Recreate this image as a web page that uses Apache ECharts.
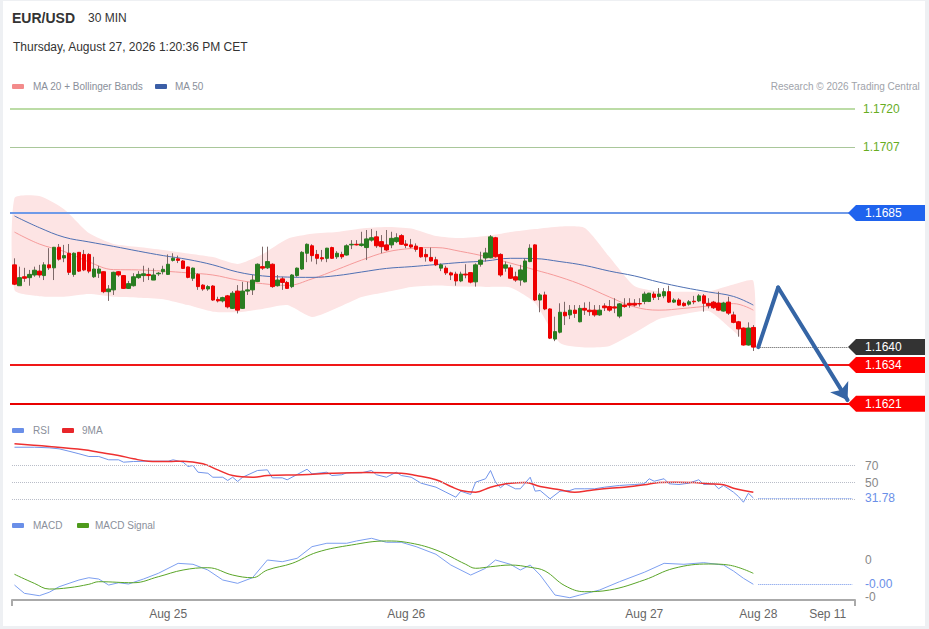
<!DOCTYPE html>
<html>
<head>
<meta charset="utf-8">
<script src="https://cdn.jsdelivr.net/npm/echarts@6/dist/echarts.min.js"></script>
<style>
html,body{margin:0;padding:0;background:#fff;}
#wrap{position:relative;width:929px;height:629px;}
#chart{position:absolute;left:0;top:0;width:929px;height:629px;}
#frame{position:absolute;left:0;top:0;width:929px;height:629px;box-sizing:border-box;border-style:solid;border-color:#eef0f3;border-width:1px 4px 3px 3px;pointer-events:none;}
</style>
</head>
<body>
<div id="wrap"><div id="chart"></div><div id="frame"></div></div>
<script>
// ---------- DATA ----------
const slotCount = 170; // 30-minute slots incl. forecast area
const xTickIndex = [31, 79, 127, 150, 164];
const xTickText = ['Aug 25', 'Aug 26', 'Aug 27', 'Aug 28', 'Sep 11'];

const open = [1.16676,1.16606,1.16636,1.16633,1.16642,1.16655,1.16640,1.16676,1.16666,1.16735,1.16699,1.16715,1.16644,1.16718,1.16711,1.16711,1.16636,1.16648,1.16653,1.16586,1.16592,1.16653,1.16640,1.16597,1.16606,1.16633,1.16640,1.16644,1.16625,1.16646,1.16653,1.16644,1.16691,1.16696,1.16689,1.16669,1.16631,1.16644,1.16608,1.16595,1.16605,1.16560,1.16555,1.16572,1.16530,1.16588,1.16530,1.16588,1.16592,1.16620,1.16670,1.16666,1.16678,1.16606,1.16629,1.16617,1.16603,1.16640,1.16662,1.16715,1.16740,1.16711,1.16700,1.16698,1.16734,1.16703,1.16711,1.16709,1.16743,1.16745,1.16741,1.16734,1.16759,1.16770,1.16754,1.16743,1.16743,1.16754,1.16774,1.16746,1.16743,1.16739,1.16734,1.16711,1.16701,1.16693,1.16665,1.16665,1.16649,1.16645,1.16622,1.16645,1.16650,1.16619,1.16678,1.16699,1.16700,1.16767,1.16711,1.16665,1.16666,1.16636,1.16625,1.16619,1.16687,1.16743,1.16558,1.16575,1.16528,1.16427,1.16450,1.16517,1.16508,1.16524,1.16485,1.16530,1.16524,1.16524,1.16508,1.16538,1.16536,1.16535,1.16504,1.16541,1.16547,1.16547,1.16546,1.16553,1.16553,1.16578,1.16570,1.16572,1.16586,1.16551,1.16558,1.16547,1.16544,1.16554,1.16555,1.16572,1.16547,1.16551,1.16548,1.16521,1.16551,1.16508,1.16485,1.16464,1.16407,1.16466];
const close = [1.16611,1.16633,1.16631,1.16644,1.16658,1.16642,1.16676,1.16666,1.16735,1.16695,1.16707,1.16651,1.16715,1.16655,1.16659,1.16655,1.16662,1.16662,1.16586,1.16595,1.16651,1.16642,1.16597,1.16613,1.16636,1.16644,1.16646,1.16640,1.16642,1.16648,1.16661,1.16678,1.16698,1.16691,1.16664,1.16634,1.16665,1.16603,1.16595,1.16603,1.16558,1.16555,1.16566,1.16535,1.16581,1.16524,1.16588,1.16592,1.16625,1.16678,1.16665,1.16687,1.16603,1.16625,1.16617,1.16597,1.16642,1.16665,1.16718,1.16745,1.16707,1.16698,1.16696,1.16732,1.16698,1.16715,1.16703,1.16740,1.16745,1.16743,1.16746,1.16763,1.16767,1.16740,1.16737,1.16726,1.16765,1.16767,1.16745,1.16741,1.16736,1.16728,1.16703,1.16703,1.16689,1.16676,1.16676,1.16649,1.16642,1.16622,1.16645,1.16642,1.16618,1.16676,1.16692,1.16716,1.16770,1.16703,1.16642,1.16676,1.16631,1.16625,1.16659,1.16689,1.16732,1.16558,1.16575,1.16528,1.16430,1.16452,1.16517,1.16505,1.16524,1.16513,1.16530,1.16524,1.16519,1.16508,1.16524,1.16532,1.16524,1.16531,1.16545,1.16536,1.16541,1.16541,1.16545,1.16578,1.16581,1.16567,1.16578,1.16586,1.16551,1.16558,1.16541,1.16539,1.16552,1.16552,1.16572,1.16547,1.16539,1.16532,1.16524,1.16548,1.16514,1.16483,1.16461,1.16407,1.16464,1.16400];
const low = [1.16608,1.16606,1.16619,1.16606,1.16636,1.16633,1.16625,1.16659,1.16625,1.16690,1.16685,1.16642,1.16636,1.16652,1.16655,1.16648,1.16632,1.16632,1.16581,1.16555,1.16575,1.16636,1.16595,1.16595,1.16603,1.16629,1.16619,1.16625,1.16625,1.16639,1.16644,1.16642,1.16687,1.16682,1.16662,1.16631,1.16622,1.16592,1.16589,1.16589,1.16555,1.16550,1.16550,1.16530,1.16528,1.16513,1.16528,1.16575,1.16575,1.16618,1.16659,1.16662,1.16599,1.16603,1.16592,1.16595,1.16598,1.16636,1.16659,1.16685,1.16687,1.16678,1.16687,1.16685,1.16696,1.16696,1.16696,1.16707,1.16729,1.16741,1.16737,1.16692,1.16754,1.16733,1.16715,1.16722,1.16732,1.16749,1.16743,1.16732,1.16732,1.16720,1.16700,1.16687,1.16687,1.16672,1.16655,1.16642,1.16625,1.16606,1.16618,1.16631,1.16614,1.16603,1.16670,1.16687,1.16698,1.16700,1.16636,1.16653,1.16629,1.16619,1.16606,1.16617,1.16685,1.16555,1.16517,1.16524,1.16427,1.16420,1.16446,1.16474,1.16494,1.16498,1.16483,1.16508,1.16505,1.16502,1.16505,1.16521,1.16519,1.16514,1.16497,1.16532,1.16532,1.16536,1.16536,1.16544,1.16551,1.16558,1.16558,1.16564,1.16548,1.16548,1.16539,1.16536,1.16539,1.16544,1.16551,1.16519,1.16530,1.16528,1.16521,1.16519,1.16508,1.16480,1.16435,1.16405,1.16405,1.16387];
const high = [1.16698,1.16670,1.16666,1.16659,1.16670,1.16676,1.16685,1.16732,1.16736,1.16746,1.16743,1.16746,1.16718,1.16719,1.16726,1.16715,1.16703,1.16673,1.16654,1.16608,1.16653,1.16655,1.16642,1.16622,1.16648,1.16655,1.16673,1.16666,1.16664,1.16652,1.16673,1.16711,1.16715,1.16707,1.16692,1.16670,1.16667,1.16648,1.16611,1.16608,1.16608,1.16569,1.16569,1.16575,1.16588,1.16608,1.16619,1.16619,1.16642,1.16681,1.16737,1.16737,1.16681,1.16642,1.16636,1.16622,1.16645,1.16667,1.16722,1.16748,1.16745,1.16726,1.16726,1.16733,1.16737,1.16722,1.16720,1.16745,1.16759,1.16759,1.16787,1.16793,1.16796,1.16790,1.16776,1.16793,1.16787,1.16782,1.16779,1.16759,1.16763,1.16748,1.16734,1.16729,1.16734,1.16703,1.16681,1.16673,1.16653,1.16653,1.16653,1.16678,1.16650,1.16681,1.16720,1.16733,1.16776,1.16770,1.16715,1.16687,1.16676,1.16653,1.16676,1.16698,1.16745,1.16745,1.16581,1.16586,1.16530,1.16502,1.16547,1.16552,1.16541,1.16541,1.16541,1.16550,1.16552,1.16541,1.16541,1.16547,1.16558,1.16564,1.16548,1.16564,1.16564,1.16561,1.16564,1.16586,1.16582,1.16586,1.16598,1.16598,1.16606,1.16564,1.16564,1.16552,1.16558,1.16572,1.16578,1.16578,1.16564,1.16555,1.16586,1.16552,1.16569,1.16519,1.16488,1.16466,1.16483,1.16474];

const bandIndex = [0,5,10,15,20,25,30,35,40,45,50,55,60,65,70,75,80,85,90,95,100,105,110,115,120,125,130,135,140,145,149];
const ma20 = [1.16786,1.16746,1.16721,1.16686,1.16660,1.16659,1.16655,1.16649,1.16642,1.16625,1.16613,1.16607,1.16629,1.16660,1.16692,1.16719,1.16731,1.16734,1.16721,1.16704,1.16682,1.16659,1.16635,1.16605,1.16568,1.16535,1.16524,1.16530,1.16538,1.16546,1.16524];
const ma50 = [1.16840,1.16801,1.16769,1.16753,1.16738,1.16722,1.16707,1.16694,1.16676,1.16652,1.16639,1.16635,1.16634,1.16640,1.16652,1.16664,1.16670,1.16677,1.16684,1.16689,1.16698,1.16697,1.16687,1.16674,1.16655,1.16639,1.16618,1.16600,1.16585,1.16570,1.16541];
const bbUpper = [1.16900,1.16907,1.16863,1.16783,1.16746,1.16736,1.16726,1.16714,1.16702,1.16679,1.16712,1.16763,1.16780,1.16786,1.16798,1.16803,1.16798,1.16773,1.16766,1.16773,1.16786,1.16796,1.16805,1.16800,1.16702,1.16605,1.16587,1.16586,1.16587,1.16610,1.16622];
const bbLower = [1.16592,1.16571,1.16569,1.16578,1.16569,1.16566,1.16561,1.16541,1.16519,1.16517,1.16528,1.16541,1.16501,1.16531,1.16568,1.16585,1.16602,1.16607,1.16603,1.16602,1.16600,1.16548,1.16414,1.16399,1.16404,1.16447,1.16494,1.16511,1.16521,1.16454,1.16400];

const rsi = [[0,91.5],[4,91.5],[7,90.8],[9,89.6],[11,86.8],[13,83.8],[15,80.6],[17,80.6],[19,76.7],[21,76.7],[22,73.9],[24,74.7],[27,75.1],[31,75.1],[32,76.7],[34,73.9],[35,68.8],[36,70],[37,62.1],[39,60.9],[40,56.2],[42,56.2],[43,52.4],[44,56.2],[45,51.2],[46,56.2],[49,64.1],[51,64.9],[52,55.5],[54,55.5],[55,53.2],[57,59.4],[59,65.6],[60,60.2],[63,62.1],[64,58.2],[66,59.1],[67,61.4],[70,61.4],[72,64.1],[73,59.1],[75,56.2],[77,62.1],[78,58.2],[80,56.2],[82,49.2],[85,44.5],[87,38.6],[89,32.7],[90,39.8],[92,35.9],[93,50.4],[95,54.4],[96,64.1],[97,50.4],[98,43.8],[99,48.5],[101,42.6],[102,42.6],[104,56.2],[105,39.8],[106,40.6],[108,30.8],[110,39.8],[112,40.6],[113,42.6],[115,42.6],[117,42.6],[119,44.5],[122,46.5],[125,47.6],[127,48.5],[128,54.4],[129,51.5],[131,54.4],[132,48.5],[134,47.6],[136,49.2],[138,53.2],[139,47.6],[141,48.5],[142,42.6],[143,46.5],[145,38.6],[146,33.5],[147,26.8],[148,37.4],[149,31.78]];
const rsiMa9 = [[0,95.5],[7,92.4],[14,88.5],[17,85.6],[21,81.8],[24,77.9],[27,75.1],[31,74.7],[34,75.1],[38,72.0],[41,64.9],[44,58.2],[48,56.2],[51,58.2],[58,59.1],[64,60.9],[71,61.8],[78,60.9],[81,58.2],[85,53.2],[88,45.3],[90,40.6],[93,38.6],[96,44.5],[100,49.2],[103,50],[106,45.3],[110,41.4],[113,38.6],[116,40.6],[120,43.3],[123,44.5],[127,47.3],[130,50],[133,50.4],[137,50],[140,48.5],[143,47.3],[145,43.3],[149,38.6]];
const macd = [[0,-0.000338],[2,-0.000450],[5,-0.000482],[7,-0.000436],[9,-0.000361],[11,-0.000315],[13,-0.000270],[15,-0.000239],[17,-0.000257],[19,-0.000338],[21,-0.000307],[23,-0.000324],[26,-0.000257],[29,-0.000180],[33,-0.000045],[36,-0.000058],[39,-0.000135],[42,-0.000270],[45,-0.000315],[48,-0.000239],[51,0],[54,-0.000023],[57,0.000023],[60,0.000180],[63,0.000226],[67,0.000226],[69,0.000257],[72,0.000293],[75,0.000239],[78,0.000239],[81,0.000180],[85,0.000077],[88,-0.000068],[92,-0.000203],[95,-0.000112],[97,0],[100,-0.000058],[102,-0.000135],[104,-0.000068],[106,-0.000203],[109,-0.000473],[112,-0.000509],[114,-0.000473],[118,-0.000405],[122,-0.000293],[127,-0.000166],[131,-0.000045],[135,-0.000058],[139,-0.000036],[143,-0.000068],[145,-0.000149],[147,-0.000247],[149,-0.000328]];
const macdSignal = [[0,-0.000193],[4,-0.000315],[7,-0.000392],[11,-0.000374],[15,-0.000328],[17,-0.000293],[24,-0.000307],[29,-0.000226],[34,-0.000135],[39,-0.000104],[44,-0.000203],[48,-0.000239],[51,-0.000135],[56,-0.000045],[61,0.000104],[68,0.000203],[75,0.000257],[79,0.000239],[85,0.000135],[91,-0.000058],[93,-0.000112],[96,-0.000091],[100,-0.000068],[104,-0.000099],[107,-0.000149],[111,-0.000347],[115,-0.000428],[120,-0.000405],[127,-0.000270],[133,-0.000112],[140,-0.000054],[144,-0.000068],[149,-0.000180]];

const resistanceLevels = [1.1720, 1.1707];
const pivotLevel = 1.1685;
const lastPrice = 1.1640;
const supportLevels = [1.1634, 1.1621];
const forecastPath = [[150, 1.1640], [154, 1.16600], [168, 1.16222]];
const rsiLevels = [70, 50, 30];
const rsiLast = 31.78;
const macdTicks = [0, -0.0005];
const macdLast = -0.000328;

// ---------- CHART ----------
const FONT = '"Liberation Sans", Arial, sans-serif';
const slots = Array.from({length: slotCount}, (_, i) => String(i));
const lastIdx = open.length - 1;
const wickData = open.map((o, i) => [o, close[i], low[i], high[i]]);
const bodyData = open.map((o, i) => [o, close[i], Math.min(o, close[i]), Math.max(o, close[i])]);
const pairs = (idx, vals) => idx.map((x, i) => [x, vals[i]]);

// horizontal level lines spanning the whole grid (drawn through the y scale)
function levelLineSeries(xi, yi, values, styles, z) {
  return {
    type: 'custom', xAxisIndex: xi, yAxisIndex: yi, clip: false, silent: true, z: z,
    data: values.map((v, i) => [0, v, i]),
    encode: {x: 0, y: 1},
    renderItem: function (params, api) {
      const st = styles[api.value(2)];
      const y = Math.round(api.coord([0, api.value(1)])[1]) + (st.width % 2 ? 0.5 : 0);
      const cs = params.coordSys;
      return {type: 'line', shape: {x1: cs.x - 2, y1: y, x2: cs.x + cs.width, y2: y},
        style: {stroke: st.color, lineWidth: st.width, lineDash: st.dash || null}};
    }
  };
}

function labelSeries(xi, yi, values, texts, styles) {
  return {
    type: 'custom', xAxisIndex: xi, yAxisIndex: yi, clip: false, silent: true, z: 20,
    data: values.map((v, i) => [0, v, i]),
    encode: {x: 0, y: 1},
    renderItem: function (params, api) {
      const i = api.value(2);
      const y = api.coord([0, api.value(1)])[1];
      const right = params.coordSys.x + params.coordSys.width;
      const st = styles[i];
      const ch = [];
      if (st.bg) {
        ch.push({type: 'polygon', shape: {points: [[right - 7, y], [right + 1, y - 8], [right + 70, y - 8], [right + 70, y + 8], [right + 1, y + 8]]}, style: {fill: st.bg}});
      }
      ch.push({type: 'text', x: right + (st.dx || 10), y: y, style: {text: texts[i], fill: st.fg, font: '12px ' + FONT, verticalAlign: 'middle', align: 'left'}});
      if (st.endTick) {
        const b = params.coordSys.y + params.coordSys.height;
        ch.push({type: 'line', shape: {x1: right, y1: b, x2: right, y2: b + 6}, style: {stroke: '#aaaaaa', lineWidth: 2}});
      }
      return {type: 'group', children: ch};
    }
  };
}

const chart = echarts.init(document.getElementById('chart'), null, {renderer: 'svg'});
const gridL = 12, gridR = 74;
const option = {
  animation: false,
  textStyle: {fontFamily: FONT},
  grid: [
    {left: gridL, right: gridR, top: 100, height: 320},
    {left: gridL, right: gridR, top: 440, height: 68},
    {left: gridL, right: gridR, top: 530, height: 70}
  ],
  xAxis: [0, 1, 2].map(g => ({
    type: 'category', gridIndex: g, data: slots, boundaryGap: true, show: g === 2,
    axisLine: {show: g === 2, onZero: false, lineStyle: {color: '#aaaaaa', width: 2}},
    axisTick: {show: g === 2, length: 6, lineStyle: {color: '#aaaaaa', width: 2},
      interval: function (idx) { return idx === 0; }},
    axisLabel: {show: g === 2, color: '#666', fontSize: 12, margin: 8, fontFamily: FONT,
      interval: function (idx) { return xTickIndex.indexOf(idx) >= 0; },
      formatter: function (v, idx) { const k = xTickIndex.indexOf(idx); return k >= 0 ? xTickText[k] : ''; }},
    splitLine: {show: false}
  })),
  yAxis: [
    {type: 'value', gridIndex: 0, min: 1.161554, max: 1.172292, show: false, splitLine: {show: false}},
    {type: 'value', gridIndex: 1, min: 20, max: 100, show: false, splitLine: {show: false}},
    {type: 'value', gridIndex: 2, min: -0.000540, max: 0.000405, show: false, splitLine: {show: false}}
  ],
  graphic: [
    {type: 'text', left: 12, top: 11, style: {text: 'EUR/USD', font: 'bold 14px ' + FONT, fill: '#333'}},
    {type: 'text', left: 88, top: 12, style: {text: '30 MIN', font: '12px ' + FONT, fill: '#333'}},
    {type: 'text', left: 13, top: 41, style: {text: 'Thursday, August 27, 2026 1:20:36 PM CET', font: '12px ' + FONT, fill: '#333'}},
    {type: 'rect', left: 12, top: 84, shape: {width: 12, height: 5, r: 1}, style: {fill: '#f38b8b'}},
    {type: 'text', left: 33, top: 81, style: {text: 'MA 20 + Bollinger Bands', font: '10px ' + FONT, fill: '#8a8f9a'}},
    {type: 'rect', left: 155, top: 84, shape: {width: 12, height: 5, r: 1}, style: {fill: '#3b5ea6'}},
    {type: 'text', left: 175, top: 81, style: {text: 'MA 50', font: '10px ' + FONT, fill: '#8a8f9a'}},
    {type: 'text', right: 9, top: 81, style: {text: 'Research © 2026 Trading Central', font: '10px ' + FONT, fill: '#a0a3aa'}},
    {type: 'rect', left: 12, top: 428, shape: {width: 12, height: 5, r: 1}, style: {fill: '#6a8fe8'}},
    {type: 'text', left: 33, top: 425, style: {text: 'RSI', font: '10px ' + FONT, fill: '#8a8f9a'}},
    {type: 'rect', left: 62, top: 428, shape: {width: 12, height: 5, r: 1}, style: {fill: '#e8262a'}},
    {type: 'text', left: 82, top: 425, style: {text: '9MA', font: '10px ' + FONT, fill: '#8a8f9a'}},
    {type: 'rect', left: 12, top: 523, shape: {width: 12, height: 5, r: 1}, style: {fill: '#6a8fe8'}},
    {type: 'text', left: 33, top: 520, style: {text: 'MACD', font: '10px ' + FONT, fill: '#8a8f9a'}},
    {type: 'rect', left: 77, top: 523, shape: {width: 12, height: 5, r: 1}, style: {fill: '#4e9a1c'}},
    {type: 'text', left: 95, top: 520, style: {text: 'MACD Signal', font: '10px ' + FONT, fill: '#8a8f9a'}}
  ],
  series: [
    // Bollinger band fill
    {
      type: 'custom', xAxisIndex: 0, yAxisIndex: 0, silent: true, z: 1,
      data: [[0, bbUpper[0]]], encode: {x: 0, y: 1},
      renderItem: function (params, api) {
        const pts = [];
        for (let i = 0; i < bandIndex.length; i++) pts.push(api.coord([bandIndex[i], bbUpper[i]]));
        for (let i = bandIndex.length - 1; i >= 0; i--) pts.push(api.coord([bandIndex[i], bbLower[i]]));
        return {type: 'polygon', shape: {points: pts, smooth: 0.2}, style: {fill: '#fde4e4'}};
      }
    },
    levelLineSeries(0, 0, resistanceLevels.concat([pivotLevel]).concat(supportLevels), [
      {color: '#bcdca6', width: 2}, {color: '#a9c79a', width: 1}, {color: '#6f9ae8', width: 2},
      {color: '#f01818', width: 2}, {color: '#e80000', width: 2}
    ], 2),
    {type: 'line', name: 'MA 20', xAxisIndex: 0, yAxisIndex: 0, data: pairs(bandIndex, ma20), smooth: 0.4, symbol: 'none', silent: true, z: 2,
      lineStyle: {color: '#f59a9a', width: 1}},
    {type: 'line', name: 'MA 50', xAxisIndex: 0, yAxisIndex: 0, data: pairs(bandIndex, ma50), smooth: 0.4, symbol: 'none', silent: true, z: 2,
      lineStyle: {color: '#4f70b3', width: 1},
      markLine: {
        silent: true, symbol: 'none', label: {show: false},
        data: [[{coord: [lastIdx + 1, lastPrice], lineStyle: {color: '#555', width: 1, type: 'dotted'}}, {coord: [168, lastPrice]}]]
      }},
    // wicks
    {type: 'candlestick', xAxisIndex: 0, yAxisIndex: 0, data: wickData, barWidth: 1, silent: true, z: 3,
      itemStyle: {color: '#7d6868', color0: '#7d6868', borderColor: '#7d6868', borderColor0: '#7d6868', borderWidth: 1}},
    // bodies
    {type: 'candlestick', xAxisIndex: 0, yAxisIndex: 0, data: bodyData, barWidth: 4, silent: true, z: 4,
      itemStyle: {color: '#2a7d21', color0: '#ee0000', borderColor: '#2a7d21', borderColor0: '#ee0000', borderWidth: 1}},
    // forecast arrow
    {type: 'lines', coordinateSystem: 'cartesian2d', xAxisIndex: 0, yAxisIndex: 0, silent: true, z: 6,
      symbol: 'none', lineStyle: {color: '#3565a5', width: 4, opacity: 1, cap: 'round'},
      data: [{coords: [forecastPath[0], forecastPath[1]]}]},
    {type: 'lines', coordinateSystem: 'cartesian2d', xAxisIndex: 0, yAxisIndex: 0, silent: true, z: 6,
      symbol: ['none', 'arrow'], symbolSize: 16, lineStyle: {color: '#3565a5', width: 4, opacity: 1, cap: 'round'},
      data: [{coords: [forecastPath[1], forecastPath[2]]}]},
    labelSeries(0, 0, resistanceLevels, resistanceLevels.map(v => v.toFixed(4)), [{fg: '#67ad1f', dx: 8}, {fg: '#67ad1f', dx: 8}]),
    labelSeries(0, 0, [pivotLevel, lastPrice].concat(supportLevels), [pivotLevel, lastPrice].concat(supportLevels).map(v => v.toFixed(4)),
      [{bg: '#1f63ee', fg: '#fff'}, {bg: '#333333', fg: '#fff'}, {bg: '#ff0000', fg: '#fff'}, {bg: '#ff0000', fg: '#fff'}]),
    // RSI
    {type: 'line', name: 'RSI', xAxisIndex: 1, yAxisIndex: 1, data: rsi, symbol: 'none', silent: true, z: 3,
      lineStyle: {color: '#7194ea', width: 1},
      markLine: {
        silent: true, symbol: 'none', label: {show: false},
        data: rsiLevels.map(v => ({yAxis: v, lineStyle: {color: '#b9bdc8', width: 1, type: 'dotted'}})).concat([
          [{coord: [lastIdx + 1, rsiLast], lineStyle: {color: '#7194ea', width: 1, type: 'dotted'}}, {coord: [169, rsiLast]}]
        ])
      }},
    {type: 'line', name: '9MA', xAxisIndex: 1, yAxisIndex: 1, data: rsiMa9, smooth: 0.4, symbol: 'none', silent: true, z: 4,
      lineStyle: {color: '#ee3030', width: 1.5}},
    labelSeries(1, 1, [70, 50, rsiLast], ['70', '50', rsiLast.toFixed(2)], [{fg: '#888'}, {fg: '#888'}, {fg: '#6a8fe8'}]),
    // MACD
    {type: 'line', name: 'MACD', xAxisIndex: 2, yAxisIndex: 2, data: macd, symbol: 'none', silent: true, z: 3,
      lineStyle: {color: '#7d9ff0', width: 1},
      markLine: {
        silent: true, symbol: 'none', label: {show: false},
        data: [[{coord: [lastIdx + 1, macdLast], lineStyle: {color: '#7194ea', width: 1, type: 'dotted'}}, {coord: [169, macdLast]}]]
      }},
    {type: 'line', name: 'MACD Signal', xAxisIndex: 2, yAxisIndex: 2, data: macdSignal, smooth: 0.4, symbol: 'none', silent: true, z: 4,
      lineStyle: {color: '#5aa528', width: 1}},
    labelSeries(2, 2, macdTicks.concat([macdLast]), macdTicks.map(v => v.toFixed(0)).concat([macdLast.toFixed(2)]),
      [{fg: '#888', endTick: true}, {fg: '#888'}, {fg: '#6a8fe8'}])
  ]
};
chart.setOption(option);
</script>
</body>
</html>
